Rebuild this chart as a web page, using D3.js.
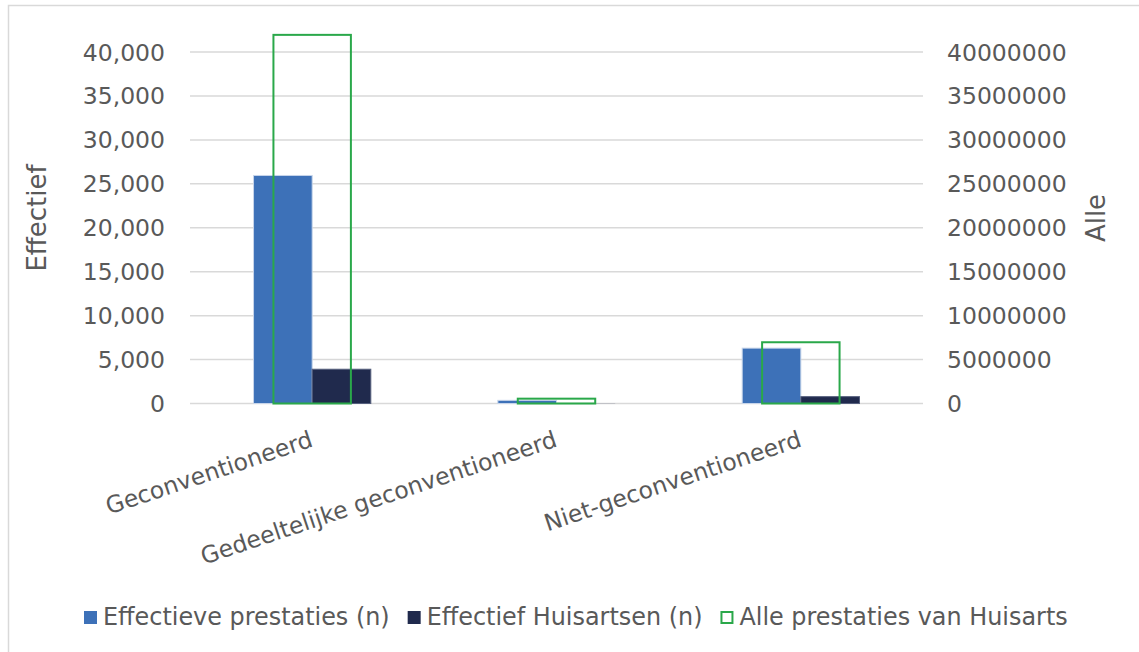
<!DOCTYPE html>
<html>
<head>
<meta charset="utf-8">
<script src="https://cdn.jsdelivr.net/npm/d3@7"></script>
<style>
  html, body { margin: 0; padding: 0; background: #ffffff; }
  svg { display: block; font-family: "DejaVu Sans", Verdana, sans-serif; }
</style>
</head>
<body>
<svg id="chart" width="1139" height="652"></svg>
<script>
// Categories and series
const categories = ["Geconventioneerd", "Gedeeltelijke geconventioneerd", "Niet-geconventioneerd"];
const effectievePrestaties = [25950, 360, 6300];        // left axis
const effectiefHuisartsen = [3900, 15, 780];            // left axis
const allePrestaties = [41950000, 550000, 6970000];     // right axis
const leftTicks = [0, 5000, 10000, 15000, 20000, 25000, 30000, 35000, 40000];
const rightTicks = [0, 5000000, 10000000, 15000000, 20000000, 25000000, 30000000, 35000000, 40000000];
const seriesNames = ["Effectieve prestaties (n)", "Effectief Huisartsen (n)", "Alle prestaties van Huisarts"];

const colors = { blue: "#3d71b8", navy: "#202a4d", green: "#2aa84a", grid: "#d9d9d9", text: "#595959" };
const FONT = 23.5;

const svg = d3.select("#chart");

// Chart frame
svg.append("rect")
  .attr("x", 8.5).attr("y", 5.5)
  .attr("width", 1140).attr("height", 660)
  .attr("fill", "#fff").attr("stroke", "#d9d9d9").attr("stroke-width", 1.5);

const plot = { left: 190, right: 923, top: 52, bottom: 403.5 };

const x = d3.scaleBand().domain(categories).range([plot.left, plot.right]).padding(0);
const yL = d3.scaleLinear().domain([0, 40000]).range([plot.bottom, plot.top]);
const yR = d3.scaleLinear().domain([0, 40000000]).range([plot.bottom, plot.top]);

// Gridlines
svg.append("g").selectAll("line").data(leftTicks).join("line")
  .attr("x1", plot.left).attr("x2", plot.right)
  .attr("y1", d => yL(d)).attr("y2", d => yL(d))
  .attr("stroke", colors.grid).attr("stroke-width", 1.5);

// Left axis labels
const fmt = d3.format(",");
svg.append("g").selectAll("text").data(leftTicks).join("text")
  .attr("x", 165).attr("y", d => yL(d) + 8.5)
  .attr("text-anchor", "end")
  .attr("font-size", FONT).attr("fill", colors.text)
  .text(d => fmt(d));

// Right axis labels
svg.append("g").selectAll("text").data(rightTicks).join("text")
  .attr("x", 947).attr("y", d => yR(d) + 8.5)
  .attr("text-anchor", "start")
  .attr("font-size", FONT).attr("fill", colors.text)
  .text(d => String(d));

// Axis titles
svg.append("text")
  .attr("transform", `translate(46,218) rotate(-90)`)
  .attr("text-anchor", "middle")
  .attr("font-size", 26).attr("fill", colors.text)
  .text("Effectief");
svg.append("text")
  .attr("transform", `translate(1105,218) rotate(-90)`)
  .attr("text-anchor", "middle")
  .attr("font-size", 26).attr("fill", colors.text)
  .text("Alle");

// Primary clustered bars
const barW = x.bandwidth() * 0.24;
const primary = [
  { name: seriesNames[0], values: effectievePrestaties, fill: colors.blue, stroke: "#c7d5ea" },
  { name: seriesNames[1], values: effectiefHuisartsen, fill: colors.navy, stroke: "#56607e" }
];
const inner = d3.scaleBand().domain(primary.map(s => s.name)).range([0, barW * 2]);
const center = c => x(c) + x.bandwidth() / 2;

primary.forEach(s => {
  svg.append("g").selectAll("rect").data(categories).join("rect")
    .attr("x", (c) => center(c) - barW + inner(s.name))
    .attr("y", (c, i) => yL(s.values[i]))
    .attr("width", inner.bandwidth())
    .attr("height", (c, i) => yL(0) - yL(s.values[i]))
    .attr("fill", s.fill)
    .attr("stroke", (c, i) => yL(0) - yL(s.values[i]) > 2 ? s.stroke : "none")
    .attr("stroke-width", 1);
});

// Secondary axis bars (outline only)
const secW = x.bandwidth() * 0.317;
svg.append("g").selectAll("rect").data(categories).join("rect")
  .attr("x", c => center(c) - secW / 2)
  .attr("y", (c, i) => yR(allePrestaties[i]))
  .attr("width", secW)
  .attr("height", (c, i) => yR(0) - yR(allePrestaties[i]))
  .attr("fill", "none")
  .attr("stroke", colors.green).attr("stroke-width", 2);

// Category labels, rotated
svg.append("g").selectAll("text").data(categories).join("text")
  .attr("transform", c => `translate(${center(c) + 2},446) rotate(-18.5)`)
  .attr("text-anchor", "end")
  .attr("font-size", FONT).attr("fill", colors.text)
  .text(c => c);

// Legend
const legend = svg.append("g");
const legendItems = [
  { name: seriesNames[0], fill: colors.blue, stroke: "none" },
  { name: seriesNames[1], fill: colors.navy, stroke: "none" },
  { name: seriesNames[2], fill: "#fff", stroke: colors.green }
];
let lx = 84;
legendItems.forEach(item => {
  if (item.stroke === "none") {
    legend.append("rect").attr("x", lx).attr("y", 611).attr("width", 13).attr("height", 13)
      .attr("fill", item.fill);
  } else {
    legend.append("rect").attr("x", lx + 1).attr("y", 612).attr("width", 11).attr("height", 11)
      .attr("fill", item.fill).attr("stroke", item.stroke).attr("stroke-width", 2);
  }
  const t = legend.append("text")
    .attr("x", lx + 19).attr("y", 625)
    .attr("font-size", 23.9).attr("fill", colors.text)
    .text(item.name);
  lx += 19 + t.node().getComputedTextLength() + 18;
});
</script>
</body>
</html>
